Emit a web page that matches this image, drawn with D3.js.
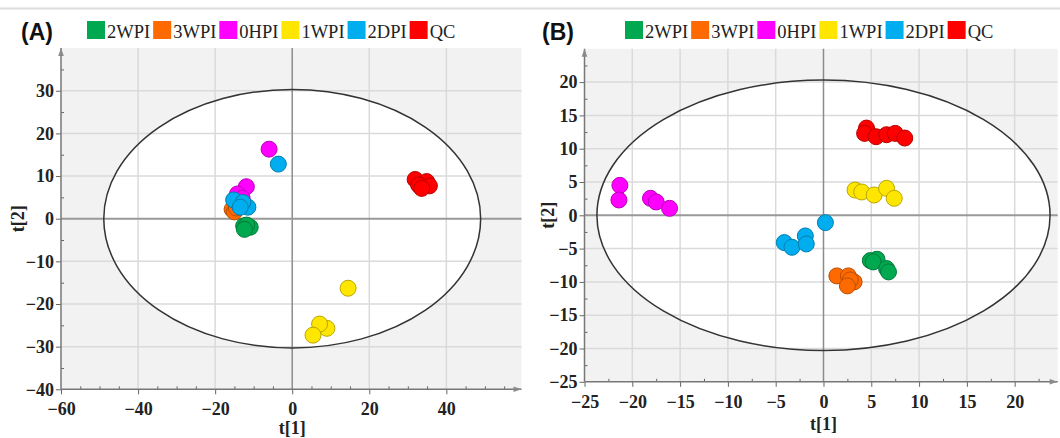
<!DOCTYPE html>
<html>
<head>
<meta charset="utf-8">
<script src="https://cdn.jsdelivr.net/npm/d3@7"></script>
<style>
  body { margin: 0; background: #fff; }
  svg { display: block; }
</style>
</head>
<body>
<svg id="chart" width="1060" height="438"></svg>
<script>
// groups, in legend (and drawing) order
const groups = ['2WPI', '3WPI', '0HPI', '1WPI', '2DPI', 'QC'];
const groupColors = ['#00a94f', '#ff6a00', '#ff00ff', '#ffe600', '#00aeef', '#ff0000'];

// panel A scores [t1, t2]
const A_2WPI = [[-12.6, -1.7], [-10.9, -2.0], [-11.8, -1.5], [-12.4, -2.5]];
const A_3WPI = [[-15.6, 2.2], [-15.0, 1.6], [-14.5, 2.5]];
const A_0HPI = [[-6.0, 16.3], [-11.9, 7.5], [-14.2, 5.8], [-13.0, 4.8]];
const A_1WPI = [[14.5, -16.3], [9.0, -25.7], [7.1, -24.7], [5.4, -27.3]];
const A_2DPI = [[-3.6, 12.8], [-15.2, 4.4], [-11.5, 2.7], [-12.8, 3.8], [-13.5, 2.7]];
const A_QC = [[31.9, 9.2], [34.9, 8.7], [35.6, 7.7], [32.8, 7.9], [33.6, 7.1]];

// panel B scores [t1, t2]
const B_2WPI = [[4.9, -6.8], [5.6, -6.6], [5.2, -7.0], [6.6, -8.0], [6.8, -8.5]];
const B_3WPI = [[1.4, -9.1], [3.2, -10.0], [2.6, -9.1], [2.8, -9.7], [2.5, -10.6]];
const B_0HPI = [[-21.3, 4.5], [-21.4, 2.3], [-18.1, 2.55], [-17.5, 2.0], [-16.1, 1.05]];
const B_1WPI = [[3.3, 3.8], [4.0, 3.5], [5.3, 3.05], [6.6, 4.05], [7.4, 2.55]];
const B_2DPI = [[0.2, -1.1], [-4.1, -4.1], [-3.3, -4.8], [-1.9, -3.1], [-1.8, -4.3]];
const B_QC = [[4.5, 13.1], [4.3, 12.3], [5.5, 11.8], [6.6, 12.1], [7.5, 12.3], [8.5, 11.6]];

// axes ticks
const A_xTicks = [-60, -40, -20, 0, 20, 40];
const A_yTicks = [-40, -30, -20, -10, 0, 10, 20, 30];
const B_xTicks = [-25, -20, -15, -10, -5, 0, 5, 10, 15, 20];
const B_yTicks = [-25, -20, -15, -10, -5, 0, 5, 10, 15, 20];

// Hotelling T2 ellipse radii
const A_ellipse = [48.9, 30.3];
const B_ellipse = [23.7, 20.3];

const svg = d3.select('#chart');

// light separator line at top
svg.append('line')
  .attr('x1', 0).attr('x2', 1060)
  .attr('y1', 8.5).attr('y2', 8.5)
  .attr('stroke', '#dcdcdc').attr('stroke-width', 2);

const defs = svg.append('defs');
defs.append('marker')
  .attr('id', 'arrow')
  .attr('viewBox', '0 0 10 10')
  .attr('refX', 10).attr('refY', 5)
  .attr('markerWidth', 16).attr('markerHeight', 8)
  .attr('markerUnits', 'userSpaceOnUse')
  .attr('orient', 'auto')
  .append('path')
    .attr('d', 'M0,1.5 L10,5 L0,8.5 Z')
    .attr('fill', '#8a8a8a');

function drawPanel(opts) {
  const { label, labelX, legendX, x, y, xTicks, yTicks, xMinor, yMinor, gridX, gridY, ellipse, series, xTitleY, yTitleX } = opts;
  const g = svg.append('g');
  const [x0, x1] = x.range();
  const [y0, y1] = y.range();

  // plot background
  g.append('rect')
    .attr('x', x0).attr('y', y1)
    .attr('width', x1 - x0).attr('height', y0 - y1)
    .attr('fill', '#f2f2f2');

  // ellipse fill
  g.append('ellipse')
    .attr('cx', x(0)).attr('cy', y(0))
    .attr('rx', x(ellipse[0]) - x(0))
    .attr('ry', y(0) - y(ellipse[1]))
    .attr('fill', '#fff');

  // grid
  g.selectAll('.gx').data(gridX).enter().append('line')
    .attr('x1', d => x(d)).attr('x2', d => x(d))
    .attr('y1', y1).attr('y2', y0)
    .attr('stroke', '#dadada').attr('stroke-width', 1.5);
  g.selectAll('.gy').data(gridY).enter().append('line')
    .attr('x1', x0).attr('x2', x1)
    .attr('y1', d => y(d)).attr('y2', d => y(d))
    .attr('stroke', '#dadada').attr('stroke-width', 1.5);

  // zero lines
  g.append('line')
    .attr('x1', x(0)).attr('x2', x(0)).attr('y1', y1).attr('y2', y0)
    .attr('stroke', '#8c8c8c').attr('stroke-width', 1.5);
  g.append('line')
    .attr('x1', x0).attr('x2', x1).attr('y1', y(0)).attr('y2', y(0))
    .attr('stroke', '#999').attr('stroke-width', 2);

  // ellipse outline
  g.append('ellipse')
    .attr('cx', x(0)).attr('cy', y(0))
    .attr('rx', x(ellipse[0]) - x(0))
    .attr('ry', y(0) - y(ellipse[1]))
    .attr('fill', 'none')
    .attr('stroke', '#333').attr('stroke-width', 1.5);

  // points
  series.forEach((pts, i) => {
    const c = groupColors[i];
    g.append('g').selectAll('circle').data(pts).enter().append('circle')
      .attr('cx', d => x(d[0]))
      .attr('cy', d => y(d[1]))
      .attr('r', 8)
      .attr('fill', c)
      .attr('stroke', d3.color(c).darker(0.9))
      .attr('stroke-width', 1);
  });

  // axes
  const tickFont = g => g.selectAll('text')
    .attr('font-family', '"Liberation Serif", "Times New Roman", serif')
    .attr('font-weight', 'bold')
    .attr('font-size', 18)
    .attr('fill', '#222');

  const xAxis = g.append('g')
    .attr('transform', `translate(0,${y0})`)
    .call(d3.axisBottom(x).tickValues(xTicks).tickSize(5).tickPadding(8).tickFormat(d3.format('d')))
    .call(tickFont);
  xAxis.select('.domain').remove();
  xAxis.selectAll('line').attr('stroke', '#666');

  g.append('g')
    .attr('transform', `translate(0,${y0})`)
    .call(d3.axisBottom(x).tickValues(xMinor).tickSize(-3).tickFormat(''))
    .call(a => a.select('.domain').remove())
    .selectAll('line').attr('stroke', '#666');

  const yAxis = g.append('g')
    .attr('transform', `translate(${x0},0)`)
    .call(d3.axisLeft(y).tickValues(yTicks).tickSize(5).tickPadding(2).tickFormat(d3.format('d')))
    .call(tickFont);
  yAxis.select('.domain').remove();
  yAxis.selectAll('line').attr('stroke', '#666');

  g.append('g')
    .attr('transform', `translate(${x0},0)`)
    .call(d3.axisLeft(y).tickValues(yMinor).tickSize(-3).tickFormat(''))
    .call(a => a.select('.domain').remove())
    .selectAll('line').attr('stroke', '#666');

  // axis lines with arrows
  g.append('line')
    .attr('x1', x0).attr('x2', x1).attr('y1', y0).attr('y2', y0)
    .attr('stroke', '#777').attr('stroke-width', 1.5)
    .attr('marker-end', 'url(#arrow)');
  g.append('line')
    .attr('x1', x0).attr('x2', x0).attr('y1', y0).attr('y2', y1)
    .attr('stroke', '#777').attr('stroke-width', 1.5)
    .attr('marker-end', 'url(#arrow)');

  // axis titles
  g.append('text')
    .attr('x', x(0)).attr('y', xTitleY)
    .attr('text-anchor', 'middle')
    .attr('font-family', '"Liberation Serif", serif')
    .attr('font-weight', 'bold').attr('font-size', 18)
    .attr('fill', '#222')
    .text('t[1]');
  g.append('text')
    .attr('transform', `translate(${yTitleX},${y(0)}) rotate(-90)`)
    .attr('text-anchor', 'middle')
    .attr('font-family', '"Liberation Serif", serif')
    .attr('font-weight', 'bold').attr('font-size', 18)
    .attr('fill', '#222')
    .text('t[2]');

  // panel label
  g.append('text')
    .attr('x', labelX).attr('y', 40)
    .attr('font-family', '"Liberation Sans", Arial, sans-serif')
    .attr('font-weight', 'bold').attr('font-size', 23)
    .attr('fill', '#111')
    .text(label);

  // legend
  let lx = legendX;
  groups.forEach((name, i) => {
    g.append('rect')
      .attr('x', lx).attr('y', 21)
      .attr('width', 18).attr('height', 18)
      .attr('fill', groupColors[i]);
    const t = g.append('text')
      .attr('x', lx + 20).attr('y', 38)
      .attr('font-family', '"Liberation Serif", "Times New Roman", serif')
      .attr('font-size', 18.5)
      .attr('fill', '#222')
      .text(name);
    lx += 20 + t.node().getComputedTextLength() + 3;
  });
}

drawPanel({
  label: '(A)', labelX: 21, legendX: 87,
  x: d3.scaleLinear().domain([-60, 59.5]).range([61, 521.5]),
  y: d3.scaleLinear().domain([-40, 40]).range([389.3, 48.1]),
  xTicks: A_xTicks, yTicks: A_yTicks,
  xMinor: d3.range(-55, 60, 5).filter(v => v % 20 !== 0),
  yMinor: d3.range(-35, 40, 5).filter(v => v % 10 !== 0),
  gridX: [-40, -20, 20, 40], gridY: [-30, -20, -10, 10, 20, 30],
  ellipse: A_ellipse,
  series: [A_2WPI, A_3WPI, A_0HPI, A_1WPI, A_2DPI, A_QC],
  xTitleY: 434, yTitleX: 24
});

drawPanel({
  label: '(B)', labelX: 542, legendX: 625,
  x: d3.scaleLinear().domain([-25, 24.5]).range([584.5, 1057.7]),
  y: d3.scaleLinear().domain([-25, 25]).range([381.8, 48.8]),
  xTicks: B_xTicks, yTicks: B_yTicks,
  xMinor: d3.range(-22.5, 24, 5),
  yMinor: d3.range(-22.5, 24, 5),
  gridX: [-20, -15, -10, -5, 5, 10, 15, 20], gridY: [-20, -15, -10, -5, 5, 10, 15, 20],
  ellipse: B_ellipse,
  series: [B_2WPI, B_3WPI, B_0HPI, B_1WPI, B_2DPI, B_QC],
  xTitleY: 430, yTitleX: 554
});
</script>
</body>
</html>
